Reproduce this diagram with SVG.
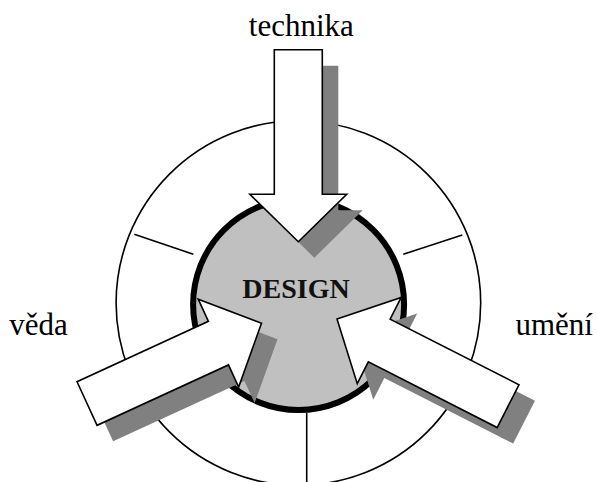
<svg xmlns="http://www.w3.org/2000/svg" xmlns:xlink="http://www.w3.org/1999/xlink" width="597" height="482" viewBox="0 0 597 482">
  <style>
    .ring { fill: none; stroke: #000; stroke-width: 1.6; }
    .core { fill: #c0c0c0; stroke: #000; stroke-width: 6; }
    .arrow { fill: #fff; stroke: #000; stroke-width: 1.6; stroke-linejoin: miter; }
    .shadow { fill: #808080; stroke: none; }
    .label { font-family: "Liberation Serif", "Times New Roman", serif; font-size: 31px; fill: #000; }
    .title { font-family: "Liberation Serif", "Times New Roman", serif; font-size: 28px; font-weight: bold; fill: #111; }
  </style>
  <defs>
    <!-- block arrow pointing along +x, tip at the origin -->
    <path id="blockArrow" d="M0,0 L-47.4,-48.4 L-47.4,-24 L-192,-24 L-192,24 L-47.4,24 L-47.4,48.4 Z"/>
  </defs>

  <!-- outer ring with dividing spokes -->
  <g id="ring">
    <circle class="ring" cx="298.4" cy="303" r="182.3"/>
    <line class="ring" x1="134.3" y1="234.3" x2="193.3" y2="254.3"/>
    <line class="ring" x1="403.3" y1="254.3" x2="462.3" y2="235"/>
    <line class="ring" x1="306.7" y1="413" x2="306.7" y2="482"/>
  </g>

  <!-- central disc -->
  <g id="design">
    <circle class="core" cx="298.6" cy="304.5" r="105.5"/>
  </g>

  <!-- three inbound arrows with drop shadows -->
  <g id="connectors">
    <g id="shadows">
      <use class="shadow" xlink:href="#blockArrow" transform="translate(16,16) translate(298.3,241.7) rotate(90)"/>
      <use class="shadow" xlink:href="#blockArrow" transform="translate(16,16) translate(261.5,323.3) rotate(-24.7)"/>
      <use class="shadow" xlink:href="#blockArrow" transform="translate(16,16) translate(337,319) rotate(207)"/>
    </g>
    <use id="arrow-technika" class="arrow" xlink:href="#blockArrow" transform="translate(298.3,241.7) rotate(90)"/>
    <use id="arrow-veda" class="arrow" xlink:href="#blockArrow" transform="translate(261.5,323.3) rotate(-24.7)"/>
    <use id="arrow-umeni" class="arrow" xlink:href="#blockArrow" transform="translate(337,319) rotate(207)"/>
  </g>

  <g id="design-label">
    <text class="title" x="296" y="298" text-anchor="middle">DESIGN</text>
  </g>
  <g id="technika">
    <text class="label" x="301.3" y="36" text-anchor="middle">technika</text>
  </g>
  <g id="veda">
    <text class="label" x="9.3" y="335">věda</text>
  </g>
  <g id="umeni">
    <text class="label" x="593" y="335" text-anchor="end">umění</text>
  </g>
</svg>
